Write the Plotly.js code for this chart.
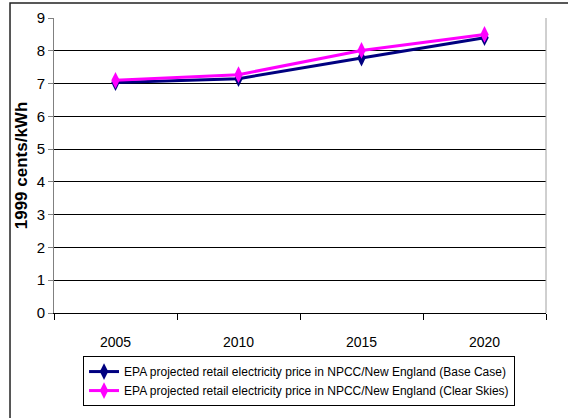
<!DOCTYPE html>
<html>
<head>
<meta charset="utf-8">
<script src="https://cdn.plot.ly/plotly-3.0.1.min.js"></script>
<style>
  html, body { margin: 0; padding: 0; background: #ffffff; }
  #chart { width: 568px; height: 418px; }
</style>
</head>
<body>
<div id="chart"></div>
<script>
// Projected retail electricity price, NPCC/New England (1999 cents/kWh)
const years = ["2005", "2010", "2015", "2020"];
const baseCase = [7.03, 7.15, 7.78, 8.40];
const clearSkies = [7.10, 7.27, 8.01, 8.50];
const seriesNames = [
  "EPA projected retail electricity price in NPCC/New England (Base Case)",
  "EPA projected retail electricity price in NPCC/New England (Clear Skies)"
];
const yTicks = [0, 1, 2, 3, 4, 5, 6, 7, 8, 9];

const traces = [
  {
    x: years, y: baseCase, name: seriesNames[0],
    type: "scatter", mode: "lines+markers",
    line: { color: "#000080", width: 3 },
    marker: { symbol: "diamond-tall", size: 12, color: "#000080" }
  },
  {
    x: years, y: clearSkies, name: seriesNames[1],
    type: "scatter", mode: "lines+markers",
    line: { color: "#FF00FF", width: 3 },
    marker: { symbol: "diamond-tall", size: 12, color: "#FF00FF" }
  }
];

const layout = {
  width: 568, height: 418,
  margin: { l: 54, r: 22, t: 18, b: 105 },
  paper_bgcolor: "#ffffff",
  plot_bgcolor: "#ffffff",
  font: { family: "Arial, 'Liberation Sans', sans-serif", size: 14, color: "#000000" },
  showlegend: true,
  xaxis: {
    type: "category",
    range: [-0.5, 3.5],
    tickson: "boundaries",
    ticks: "outside", ticklen: 6, tickcolor: "#000000",
    ticklabelstandoff: 16,
    showline: true, linecolor: "#000000", linewidth: 1,
    showgrid: false, zeroline: false,
    tickfont: { size: 14 },
    fixedrange: true
  },
  yaxis: {
    range: [0, 9],
    tickvals: yTicks,
    ticks: "outside", ticklen: 5, tickcolor: "#808080",
    showline: true, linecolor: "#808080", linewidth: 1,
    showgrid: true, gridcolor: "#000000", gridwidth: 1,
    zeroline: false,
    tickfont: { size: 15 },
    title: { text: "<b>1999 cents/kWh</b>", font: { size: 17 }, standoff: 4 },
    fixedrange: true
  },
  legend: {
    x: 0.059, y: -0.146, xanchor: "left", yanchor: "top",
    bgcolor: "#ffffff", bordercolor: "#000000", borderwidth: 1,
    font: { size: 12 },
    tracegroupgap: 0
  },
  shapes: [
    // right edge of the plotting area
    { type: "line", xref: "paper", yref: "paper", x0: 1, x1: 1, y0: 0, y1: 1,
      line: { color: "#a0a0a0", width: 1 } },
    // outer chart frame
    { type: "rect", xref: "paper", yref: "paper",
      x0: -0.0894, x1: 1.1, y0: -0.4, y1: 1.0508,
      line: { color: "#222222", width: 1.5 }, layer: "below" }
  ]
};

Plotly.newPlot("chart", traces, layout, { displayModeBar: false, staticPlot: true });
</script>
</body>
</html>
